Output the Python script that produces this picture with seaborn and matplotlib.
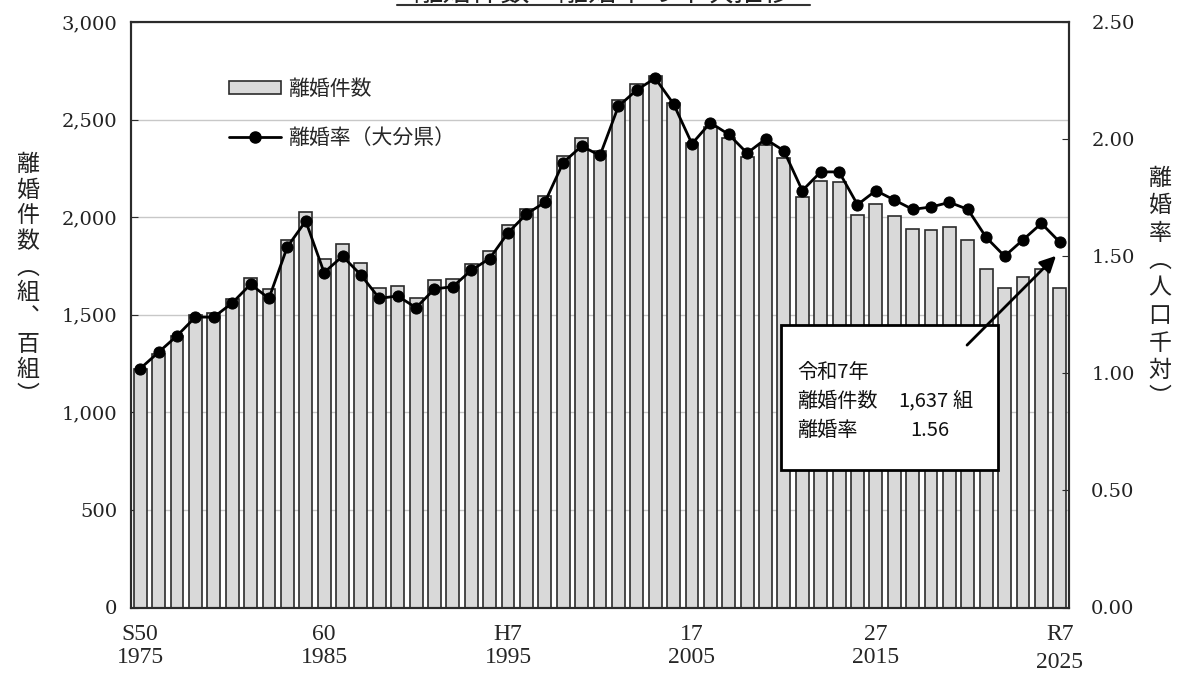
import numpy as np
import matplotlib
matplotlib.use('Agg')
import matplotlib.pyplot as plt
import seaborn as sns
from matplotlib.patches import Patch, Rectangle
from matplotlib.lines import Line2D
from matplotlib.ticker import FuncFormatter

# data
years = list(range(1975, 2026))
divorces = [1220, 1300, 1390, 1500, 1510, 1580, 1690, 1630, 1885, 2025, 1785, 1860, 1765,
            1635, 1645, 1585, 1680, 1685, 1760, 1825, 1960, 2040, 2110, 2315, 2405, 2340,
            2600, 2680, 2725, 2585, 2380, 2460, 2405, 2310, 2370, 2305, 2105, 2185, 2180,
            2010, 2065, 2005, 1940, 1935, 1950, 1885, 1735, 1635, 1695, 1735, 1637]
rates = [1.02, 1.09, 1.16, 1.24, 1.24, 1.30, 1.38, 1.32, 1.54, 1.65, 1.43, 1.50, 1.42,
         1.32, 1.33, 1.28, 1.36, 1.37, 1.44, 1.49, 1.60, 1.68, 1.73, 1.90, 1.97, 1.93,
         2.14, 2.21, 2.26, 2.15, 1.98, 2.07, 2.02, 1.94, 2.00, 1.95, 1.78, 1.86, 1.86,
         1.72, 1.78, 1.74, 1.70, 1.71, 1.73, 1.70, 1.58, 1.50, 1.57, 1.64, 1.56]
tick_years = [1975, 1985, 1995, 2005, 2015, 2025]
era_labels = ['S50', '60', 'H7', '17', '27', 'R7']

count_ticks = [0, 500, 1000, 1500, 2000, 2500, 3000]
rate_ticks = [0.0, 0.5, 1.0, 1.5, 2.0, 2.5]

sns.set_style('white')
plt.rcParams['font.family'] = ['Noto Sans CJK JP', 'DejaVu Sans']

JP = 'Noto Sans CJK JP'
BAR_FILL = '#d9d9d9'
EDGE = '#2b2b2b'

W, H = 1179, 679
fig = plt.figure(figsize=(W / 100, H / 100), dpi=100)
ax = fig.add_axes([131 / W, 1 - 607.5 / H, 938 / W, 585.5 / H])

# bars - divorce counts
sns.barplot(x=years, y=divorces, native_scale=True, width=0.7, color=BAR_FILL,
            saturation=1, edgecolor=EDGE, linewidth=1.2, ax=ax, zorder=2)
ax.set_xlim(years[0] - 0.5, years[-1] + 0.5)
ax.set_ylim(0, 3000)
ax.set_yticks(count_ticks)
ax.yaxis.set_major_formatter(FuncFormatter(lambda v, p: f'{int(v):,}'))
ax.yaxis.grid(True, color='#c8c8c8', linewidth=1)
ax.set_axisbelow(True)

ax.set_xticks(tick_years)
ax.set_xticklabels([f'{e}\n{y}' for e, y in zip(era_labels, tick_years)])
ax.set_xticks(np.arange(years[0] - 0.5, years[-1] + 1), minor=True)
ax.tick_params(axis='x', which='major', length=0, pad=12)
ax.tick_params(axis='x', which='minor', direction='in', length=4, color=EDGE)
ax.tick_params(axis='y', direction='in', length=5, color=EDGE, pad=10)
xlabs = ax.get_xticklabels()
for lab in xlabs:
    lab.set_fontfamily('Liberation Serif')
    lab.set_fontsize(17)
    lab.set_linespacing(1.1)
xlabs[-1].set_linespacing(1.45)
for lab in ax.get_yticklabels():
    lab.set_fontfamily('DejaVu Serif')
    lab.set_fontsize(14)
    lab.set_color('#222222')

# line - divorce rate
ax2 = ax.twinx()
sns.lineplot(x=years, y=rates, ax=ax2, color='black', linewidth=2, marker='o',
             markersize=8, markeredgecolor='black', zorder=4)
ax2.set_ylim(0, 2.5)
ax2.set_yticks(rate_ticks)
ax2.yaxis.set_major_formatter(FuncFormatter(lambda v, p: f'{v:.2f}'))
ax2.tick_params(axis='y', direction='in', length=5, color=EDGE, pad=16)
for lab in ax2.get_yticklabels():
    lab.set_fontfamily('DejaVu Serif')
    lab.set_fontsize(14)
    lab.set_color('#222222')

for a in (ax, ax2):
    for s in a.spines.values():
        s.set_color(EDGE)
        s.set_linewidth(1.5)
ax.set_xlabel('')
ax.set_ylabel('')
ax2.set_ylabel('')

# legend
handles = [Patch(facecolor=BAR_FILL, edgecolor=EDGE, linewidth=1.2),
           Line2D([0], [0], color='black', linewidth=2, marker='o', markersize=8)]
ax2.legend(handles, ['離婚件数', '離婚率（大分県）'], loc='upper left',
           bbox_to_anchor=((229 - 131) / 938, (607.5 - 78) / 585.5),
           frameon=False, fontsize=15, handlelength=2.5, handleheight=0.6,
           handletextpad=0.35, labelspacing=1.3, borderpad=0, borderaxespad=0)

# annotation box for latest year
def axpos(px, py):
    return ((px - 131) / 938, (607.5 - py) / 585.5)

x0, y0 = axpos(781, 470)
x1, y1 = axpos(998, 325)
ax2.add_patch(Rectangle((x0, y0), x1 - x0, y1 - y0, transform=ax2.transAxes,
                        facecolor='white', edgecolor='black', linewidth=2, zorder=5))
box_kw = dict(transform=ax2.transAxes, fontsize=14.5, va='center', zorder=6, color='#111111')
ax2.text(*axpos(797, 372), '令和7年', ha='left', **box_kw)
ax2.text(*axpos(797, 401), '離婚件数', ha='left', **box_kw)
ax2.text(*axpos(949, 401), f'{divorces[-1]:,}', ha='right', **box_kw)
ax2.text(*axpos(953, 401), '組', ha='left', **box_kw)
ax2.text(*axpos(797, 430), '離婚率', ha='left', **box_kw)
ax2.text(*axpos(949, 430), f'{rates[-1]:.2f}', ha='right', **box_kw)
ax2.annotate('', xy=(years[-1] - 0.1, rates[-1] - 0.05), xytext=(2019.85, 1.112),
             arrowprops=dict(arrowstyle='-|>', color='black', lw=2, mutation_scale=24),
             zorder=7)

# vertical axis titles
left_title = ['離', '婚', '件', '数', '︵', '組', '︑', '百', '組', '︶']
right_title = ['離', '婚', '率', '︵', '人', '口', '千', '対', '︶']
fig.text(28 / W, 1 - 280 / H, '\n'.join(left_title), ha='center', va='center',
         fontsize=16.5, linespacing=1.15, family=JP, color='#222222')
fig.text(1160 / W, 1 - 288 / H, '\n'.join(right_title), ha='center', va='center',
         fontsize=16.5, linespacing=1.25, family=JP, color='#222222')

# title, cut off at the top edge as in the source
fig.text(603 / W, 1 - 2 / H, '離婚件数・離婚率の年次推移', ha='center', va='baseline',
         fontsize=21, family=JP, color='#222222')
fig.add_artist(Line2D([397 / W, 810 / W], [1 - 5 / H] * 2, transform=fig.transFigure,
                      color='#333333', linewidth=1.5))

fig.savefig('out.png', dpi=100)
